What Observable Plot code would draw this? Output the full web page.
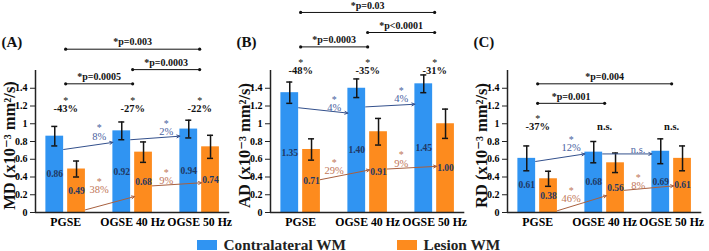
<!DOCTYPE html>
<html><head><meta charset="utf-8">
<script src="https://cdn.jsdelivr.net/npm/d3@7"></script>
<script src="https://cdn.jsdelivr.net/npm/@observablehq/plot@0.6"></script>
<style>
body{margin:0;background:#fff;font-family:"Liberation Serif","Times New Roman","DejaVu Serif",serif;width:709px;height:251px;overflow:hidden;}
#row{display:flex;height:232px;}
#legend{display:flex;align-items:center;margin-top:5px;height:15px;padding-left:197px;gap:51px;font-weight:bold;font-size:15.3px;color:#222;font-family:"Liberation Serif","Times New Roman",serif;}
.item{display:flex;align-items:center;gap:6.5px;}
.sw{width:20px;height:10px;display:inline-block;}
</style></head><body>
<div id="row"></div>
<div id="legend"></div>
<script>
const groups = ["PGSE", "OGSE 40 Hz", "OGSE 50 Hz"];
const seriesNames = ["Contralateral WM", "Lesion WM"];
const seriesColors = ["#3094f2", "#fd8b1e"];
const yTicks = [0, 0.2, 0.4, 0.6, 0.8, 1, 1.2, 1.4];

// (A) MD
const mdContra = [0.86, 0.92, 0.94];
const mdLesion = [0.49, 0.68, 0.74];
const mdContraErr = [0.11, 0.10, 0.10];
const mdLesionErr = [0.09, 0.115, 0.13];
const mdDiff = ["-43%", "-27%", "-22%"];
const mdContraChange = ["8%", "2%"];
const mdLesionChange = ["38%", "9%"];
const mdComps = [["*p=0.0005", 0, 1], ["*p=0.0003", 1, 2], ["*p=0.003", 0, 2]];

// (B) AD
const adContra = [1.35, 1.40, 1.45];
const adLesion = [0.71, 0.91, 1.00];
const adContraErr = [0.12, 0.105, 0.10];
const adLesionErr = [0.12, 0.15, 0.165];
const adDiff = ["-48%", "-35%", "-31%"];
const adContraChange = ["4%", "4%"];
const adLesionChange = ["29%", "9%"];
const adComps = [["*p=0.0003", 0, 1], ["*p<0.0001", 1, 2], ["*p=0.03", 0, 2]];

// (C) RD
const rdContra = [0.61, 0.68, 0.69];
const rdLesion = [0.38, 0.56, 0.61];
const rdContraErr = [0.14, 0.12, 0.14];
const rdLesionErr = [0.085, 0.11, 0.14];
const rdDiff = ["-37%", "n.s.", "n.s."];
const rdContraChange = ["12%", "n.s."];
const rdLesionChange = ["46%", "8%"];
const rdComps = [["*p=0.001", 0, 1], ["*p=0.004", 0, 2]];

// annotation levels (data units): [arrow start, arrow end, label]
const mdLayout = {diff: 1.17, comps: [1.45, 1.61, 1.84],
  contraArrows: [[0.71, 0.79, 0.86], [0.82, 0.86, 0.91]],
  lesionArrows: [[0.03, 0.18, 0.26], [0.30, 0.335, 0.36]]};
const adLayout = {diff: 1.60, comps: [1.866, 2.028, 2.254],
  contraArrows: [[1.18, 1.12, 1.18], [1.19, 1.22, 1.28]],
  lesionArrows: [[0.37, 0.48, 0.47], [0.49, 0.52, 0.555]]};
const rdLayout = {diff: 0.97, comps: [1.23, 1.45],
  contraArrows: [[0.575, 0.66, 0.73], [0.66, 0.66, 0.71]],
  lesionArrows: [[0.02, 0.19, 0.155], [0.25, 0.30, 0.30]]};

const panels = [
  {tag: "(A)", label: "MD (x10\u207B\u00B3 mm\u00B2/s)", contra: mdContra, lesion: mdLesion, contraErr: mdContraErr, lesionErr: mdLesionErr, diff: mdDiff, cc: mdContraChange, lc: mdLesionChange, comps: mdComps, lay: mdLayout, width: 235},
  {tag: "(B)", label: "AD (x10\u207B\u00B3 mm\u00B2/s)", contra: adContra, lesion: adLesion, contraErr: adContraErr, lesionErr: adLesionErr, diff: adDiff, cc: adContraChange, lc: adLesionChange, comps: adComps, lay: adLayout, width: 237},
  {tag: "(C)", label: "RD (x10\u207B\u00B3 mm\u00B2/s)", contra: rdContra, lesion: rdLesion, contraErr: rdContraErr, lesionErr: rdLesionErr, diff: rdDiff, cc: rdContraChange, lc: rdLesionChange, comps: rdComps, lay: rdLayout, width: 237}
];

const xDomain = [-0.45, 2.45];
const off = [[-0.295, -0.03], [0.03, 0.295]];
const font = '"Liberation Serif", "Times New Roman", "DejaVu Serif", serif';
const blueArrow = "#33508c", blueText = "#4a62a0";
const orangeArrow = "#a8603f", orangeText = "#bf7658";
const valueText = "#1f3864";

function panelPlot(p) {
  const bars = [];
  groups.forEach((g, i) => {
    bars.push({i, s: 0, v: p.contra[i], e: p.contraErr[i]});
    bars.push({i, s: 1, v: p.lesion[i], e: p.lesionErr[i]});
  });
  const xm = d => d.i + (off[d.s][0] + off[d.s][1]) / 2;
  const diffs = groups.map((g, i) => ({i, t: p.diff[i]}));
  const comps = p.comps.map((c, k) => ({t: c[0], a: c[1], b: c[2], y: p.lay.comps[k]}));
  const compEnds = comps.flatMap(c => [{x: c.a, y: c.y}, {x: c.b, y: c.y}]);
  const ca = p.cc.map((t, i) => ({i, t, y1: p.lay.contraArrows[i][0], y2: p.lay.contraArrows[i][1], ly: p.lay.contraArrows[i][2]}));
  const la = p.lc.map((t, i) => ({i, t, y1: p.lay.lesionArrows[i][0], y2: p.lay.lesionArrows[i][1], ly: p.lay.lesionArrows[i][2]}));
  const sig = d => d.t !== "n.s.";
  const plotW = (xDomain[1] - xDomain[0]) * 67;
  return Plot.plot({
    width: p.width, height: 232,
    marginLeft: 35, marginRight: p.width - 35 - plotW, marginTop: 70, marginBottom: 20,
    x: {domain: xDomain, axis: null},
    y: {domain: [0, 1.6], axis: null},
    style: {fontFamily: font, background: "white", overflow: "visible"},
    marks: [
      Plot.rectY(bars, {x1: d => d.i + off[d.s][0], x2: d => d.i + off[d.s][1], y: "v", fill: d => seriesColors[d.s]}),
      Plot.ruleX(bars, {x: xm, y1: d => d.v - d.e, y2: d => d.v + d.e, stroke: "#151515", strokeWidth: 1.5}),
      Plot.ruleY(bars, {x1: d => xm(d) - 0.045, x2: d => xm(d) + 0.045, y: d => d.v + d.e, stroke: "#151515", strokeWidth: 1.5}),
      Plot.ruleY(bars, {x1: d => xm(d) - 0.045, x2: d => xm(d) + 0.045, y: d => d.v - d.e, stroke: "#151515", strokeWidth: 1.5}),
      Plot.text(bars, {x: xm, y: d => d.v / 2, text: d => d.v.toFixed(2), fill: valueText, fontSize: 9.5, fontWeight: "bold", fontFamily: font}),
      // within-group % changes across methods
      Plot.arrow(ca, {x1: d => d.i + off[0][1], x2: d => d.i + 1 + off[0][0], y1: "y1", y2: "y2", stroke: blueArrow, strokeWidth: 1, headLength: 5, headAngle: 50}),
      Plot.arrow(la, {x1: d => d.i + off[1][1], x2: d => d.i + 1 + off[1][0], y1: "y1", y2: "y2", stroke: orangeArrow, strokeWidth: 1, headLength: 5, headAngle: 50}),
      Plot.text(ca, {x: d => d.i + 0.5, y: "ly", text: "t", fill: blueText, fontSize: 10.5, fontFamily: font}),
      Plot.text(ca.filter(sig), {x: d => d.i + 0.5, y: "ly", text: () => "*", fill: blueText, fontSize: 10, dy: -8, fontFamily: font}),
      Plot.text(la, {x: d => d.i + 0.5, y: "ly", text: "t", fill: orangeText, fontSize: 10.5, fontFamily: font}),
      Plot.text(la.filter(sig), {x: d => d.i + 0.5, y: "ly", text: () => "*", fill: orangeText, fontSize: 10, dy: -8, fontFamily: font}),
      // lesion vs contralateral
      Plot.text(diffs, {x: "i", y: () => p.lay.diff, text: "t", fontSize: 10.5, fontWeight: "bold", fill: "#111", fontFamily: font}),
      Plot.text(diffs.filter(sig), {x: "i", y: () => p.lay.diff, text: () => "*", fontSize: 10, fill: "#111", dy: -8, fontFamily: font}),
      // comparisons between methods
      Plot.ruleY(comps, {x1: "a", x2: "b", y: "y", stroke: "#111", strokeWidth: 1}),
      Plot.dot(compEnds, {x: "x", y: "y", r: 1.6, fill: "#111"}),
      Plot.text(comps, {x: d => (d.a + d.b) / 2, y: "y", text: "t", dy: -7, fontSize: 10, fontWeight: "bold", fill: "#111", fontFamily: font}),
      // axes
      Plot.ruleY([0], {stroke: "#222", strokeWidth: 1.5}),
      Plot.ruleX([xDomain[0]], {y1: 0, y2: 1.6, stroke: "#222", strokeWidth: 1.5}),
      Plot.axisY({ticks: yTicks, tickFormat: d => String(+d.toFixed(1)), tickSize: 5, tickPadding: 3, fontSize: 10, fontWeight: "bold", fontFamily: font, label: null, stroke: "#222"}),
      Plot.axisX({ticks: [0, 1, 2], tickFormat: i => groups[i], tickSize: 0, tickPadding: 5, fontSize: 11.8, fontWeight: "bold", fontFamily: font, label: null}),
      Plot.text([p.label], {frameAnchor: "left", rotate: -90, dx: -26, dy: 4, textAnchor: "middle", lineAnchor: "middle", fontSize: 16.5, fontWeight: "bold", fill: "#111", fontFamily: font}),
      Plot.text([p.tag], {frameAnchor: "top-left", dx: -34, dy: -28, textAnchor: "start", lineAnchor: "middle", fontSize: 15, fontWeight: "bold", fill: "#111", fontFamily: font})
    ]
  });
}

const row = document.getElementById("row");
panels.forEach(p => row.appendChild(panelPlot(p)));

const legend = document.getElementById("legend");
seriesNames.forEach((n, k) => {
  const it = document.createElement("div");
  it.className = "item";
  it.innerHTML = `<span class="sw" style="background:${seriesColors[k]}"></span><span>${n}</span>`;
  legend.appendChild(it);
});
</script>
</body></html>
